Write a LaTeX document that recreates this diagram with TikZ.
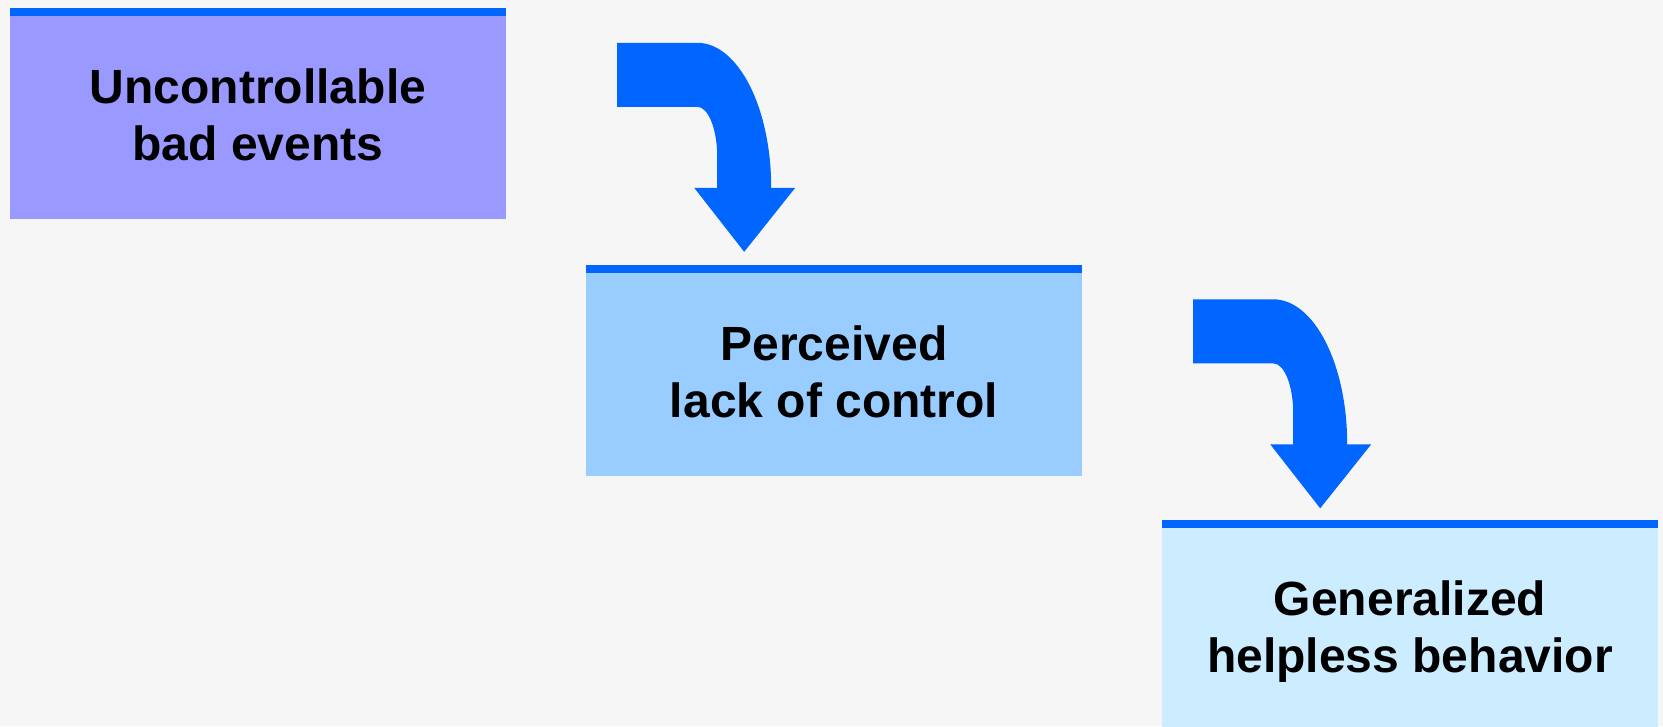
\documentclass[tikz,border=0pt]{standalone}
\usepackage{fontspec}
\setmainfont{Liberation Sans}
\definecolor{paper}{HTML}{F6F6F6}
\definecolor{barblue}{HTML}{0066FF}
\definecolor{fillA}{HTML}{9999FF}
\definecolor{fillB}{HTML}{99CCFF}
\definecolor{fillC}{HTML}{CCECFF}
\begin{document}
\begin{tikzpicture}[x=1pt,y=-1pt,
  stagebox/.style={rectangle, draw=none, inner sep=0pt,
    minimum width=496pt, minimum height=211pt,
    path picture={\fill[barblue] (path picture bounding box.north west)
      rectangle ([yshift=-8pt]path picture bounding box.north east);}},
  stagetext/.style={inner sep=0pt, align=center, anchor=north,
    font=\fontsize{48}{57}\selectfont\bfseries},
  bentarrow/.pic={
    \fill[barblue] (0,0) -- (80,0)
      .. controls (121,0) and (154,65) .. (154,145)
      -- (178,145) -- (127,209) -- (77,145) -- (100,145) -- (100,114)
      .. controls (100,86) and (91,64) .. (80,64)
      -- (0,64) -- cycle;
  }]
  % page and background
  \clip (0,0) rectangle (1663,726);
  \useasboundingbox (0,0) rectangle (1663,726);
  \fill[paper] (0,0) rectangle (1663,726);

  % the three stages
  \node[stagebox, fill=fillA] (b1) at (258,113.5) {};
  \node[stagebox, fill=fillB] (b2) at (834,370) {};
  \node[stagebox, fill=fillC] (b3) at (1410,625.5) {};

  \node[stagetext] (t1) at ([yshift=-61pt]b1.north) {Uncontrollable\\bad events};
  \node[stagetext] (t2) at ([yshift=-61pt]b2.north) {Perceived\\lack of control};
  \node[stagetext] (t3) at ([yshift=-61pt]b3.north) {Generalized\\helpless behavior};

  % bent arrows leading down to the next stage
  \coordinate (a1) at ([xshift=111pt,yshift=-35pt]b1.north east);
  \coordinate (a2) at ([xshift=111pt,yshift=-35pt]b2.north east);
  \pic at (a1) {bentarrow};
  \pic at (a2) {bentarrow};
\end{tikzpicture}
\end{document}
